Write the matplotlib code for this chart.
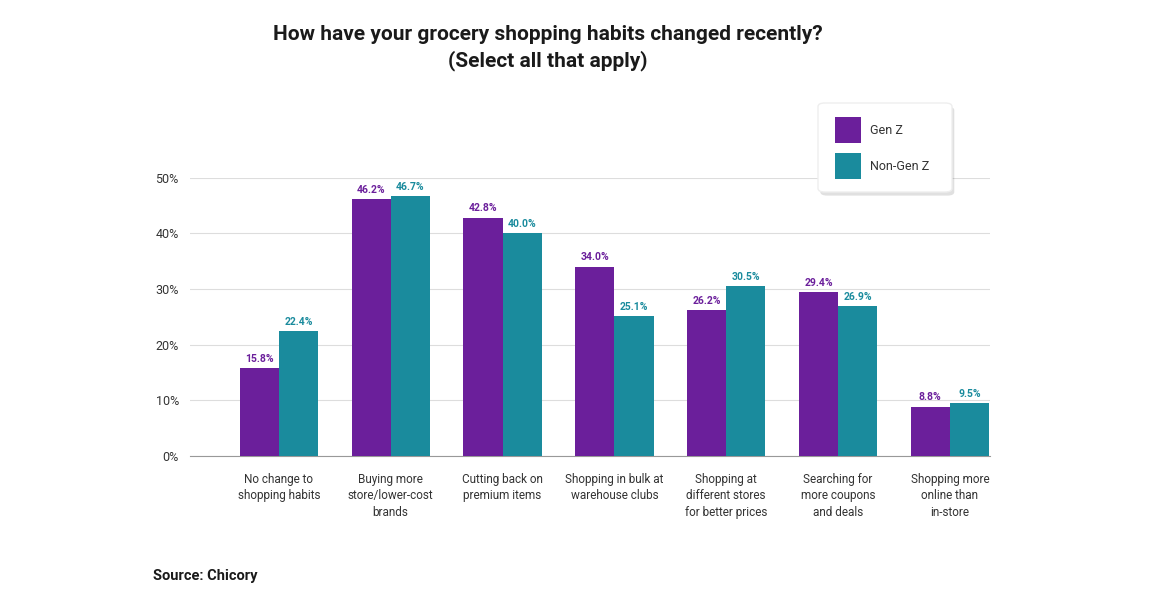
import matplotlib
matplotlib.use("Agg")
import matplotlib.pyplot as plt
from matplotlib.patches import FancyBboxPatch, Rectangle
import numpy as np

plt.rcParams['font.family'] = ['Roboto', 'DejaVu Sans']

categories = ["No change to\nshopping habits", "Buying more\nstore/lower-cost\nbrands",
              "Cutting back on\npremium items", "Shopping in bulk at\nwarehouse clubs",
              "Shopping at\ndifferent stores\nfor better prices", "Searching for\nmore coupons\nand deals",
              "Shopping more\nonline than\nin-store"]
gen_z = [15.8, 46.2, 42.8, 34.0, 26.2, 29.4, 8.8]
non_gen_z = [22.4, 46.7, 40.0, 25.1, 30.5, 26.9, 9.5]
purple = "#6b1f9b"
teal = "#1a8b9d"

fig = plt.figure(figsize=(11.51, 6.03), dpi=100)
ax = fig.add_axes([0.165, 0.244, 0.695, 0.461])
x = np.arange(len(categories))
w = 0.35
ax.bar(x - w/2, gen_z, w, color=purple, zorder=3)
ax.bar(x + w/2, non_gen_z, w, color=teal, zorder=3)
for i in range(len(x)):
    ax.text(x[i] - w/2, gen_z[i] + 0.8, f"{gen_z[i]:.1f}%", ha="center", va="bottom",
            fontsize=7.5, fontweight="bold", color=purple)
    ax.text(x[i] + w/2, non_gen_z[i] + 0.8, f"{non_gen_z[i]:.1f}%", ha="center", va="bottom",
            fontsize=7.5, fontweight="bold", color=teal)

ax.set_xlim(-0.795, 6.357)
ax.set_ylim(0, 50)
ax.set_yticks(range(0, 51, 10))
ax.set_yticklabels([f"{v}%" for v in range(0, 51, 10)], fontsize=9, color="#333333")
ax.set_xticks(x)
ax.set_xticklabels(categories, fontsize=8.5, color="#333333", linespacing=1.35)
ax.tick_params(length=0, pad=12)
ax.tick_params(axis="y", pad=8)
ax.grid(axis="y", color="#dddddd", linewidth=0.8, zorder=0)
for s in ["top", "right", "left"]:
    ax.spines[s].set_visible(False)
ax.spines["bottom"].set_color("#999999")

fig.text(0.476, 0.92, "How have your grocery shopping habits changed recently?\n(Select all that apply)",
         ha="center", va="center", fontsize=15, fontweight="bold", color="#1a1a1a", linespacing=1.4)
fig.text(0.133, 0.045, "Source: Chicory", ha="left", va="center", fontsize=10.5,
         fontweight="bold", color="#1a1a1a")

# legend box with shadow
lx, ly, lw, lh = 818/1151, 1-192/603, 134/1151, 89/603
shadow = FancyBboxPatch((lx + 0.002, ly - 0.006), lw, lh, boxstyle="round,pad=0,rounding_size=0.006",
                        transform=fig.transFigure, facecolor="#000000", alpha=0.12, edgecolor="none")
box = FancyBboxPatch((lx, ly), lw, lh, boxstyle="round,pad=0,rounding_size=0.006",
                     transform=fig.transFigure, facecolor="white", edgecolor="#eeeeee")
fig.patches.extend([shadow, box])
for j, (lab, col) in enumerate([("Gen Z", purple), ("Non-Gen Z", teal)]):
    cy = 1 - (130 + j*36)/603
    fig.patches.append(Rectangle((835/1151, cy - 0.022), 26/1151, 0.044,
                                 transform=fig.transFigure, facecolor=col))
    fig.text(870/1151, cy, lab, ha="left", va="center", fontsize=9, color="#333333")

fig.savefig("out.png", dpi=100)
